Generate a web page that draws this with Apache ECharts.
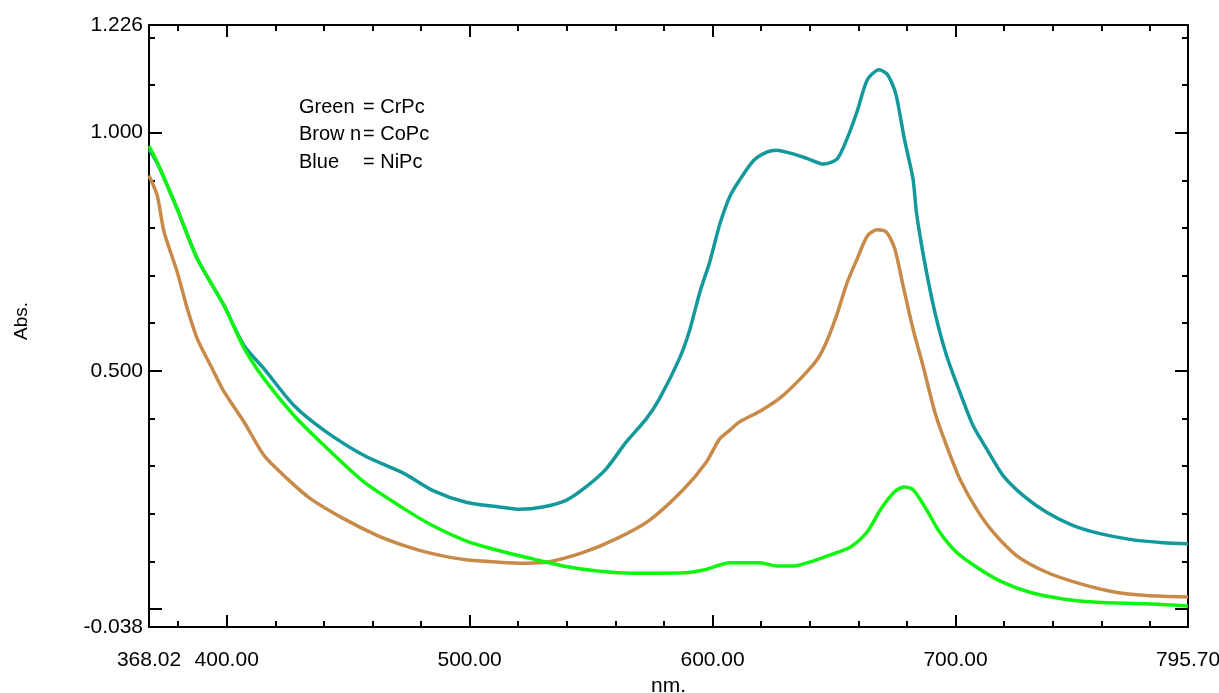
<!DOCTYPE html>
<html>
<head>
<meta charset="utf-8">
<script src="https://cdn.jsdelivr.net/npm/echarts@6/dist/echarts.min.js"></script>
<style>
html,body{margin:0;padding:0;background:#fff;}
#chart{width:1219px;height:693px;}
</style>
</head>
<body>
<div id="chart"></div>
<script>
// ---- data (wavelength nm, absorbance) ----
const crpcGreen = [
  [368.02,0.972],[371.4,0.938],[379.6,0.840],[387.9,0.735],[398.9,0.637],[407.1,0.548],
  [415.4,0.483],[427.7,0.406],[440.1,0.343],[456.6,0.266],[473.1,0.210],[484.7,0.175],
  [498.5,0.143],[512.2,0.122],[525.9,0.105],[539.7,0.089],[553.4,0.079],[567.1,0.075],
  [589.1,0.076],[597.4,0.083],[607.1,0.097],[619.5,0.097],[626.4,0.090],[633.3,0.090],
  [641.6,0.101],[649.9,0.116],[656.8,0.130],[663.7,0.162],[669.2,0.209],[674.7,0.245],
  [678.7,0.256],[681.7,0.253],[683.9,0.242],[688.7,0.203],[693.5,0.161],[700.4,0.119],
  [708.6,0.088],[718.2,0.059],[730.6,0.035],[744.3,0.021],[758.1,0.014],[778.7,0.011],
  [789.6,0.008],[795.70,0.006]
];
const copcBrown = [
  [368.02,0.910],[371.4,0.868],[374.2,0.792],[379.6,0.708],[383.8,0.630],[387.9,0.567],
  [393.4,0.511],[398.9,0.456],[407.1,0.393],[415.4,0.322],[425.0,0.273],[434.6,0.231],
  [448.3,0.189],[462.1,0.154],[473.1,0.133],[484.7,0.116],[498.5,0.103],[512.2,0.098],
  [523.2,0.096],[532.8,0.099],[546.5,0.118],[560.3,0.147],[574.0,0.186],[587.7,0.249],
  [597.4,0.308],[602.9,0.357],[607.0,0.375],[611.2,0.393],[619.5,0.415],[627.8,0.443],
  [636.1,0.483],[643.0,0.523],[647.1,0.563],[651.3,0.620],[655.4,0.685],[659.6,0.736],
  [663.7,0.783],[667.6,0.796],[671.6,0.791],[675.0,0.756],[678.4,0.679],[682.5,0.588],
  [686.6,0.511],[691.5,0.413],[696.3,0.343],[701.8,0.273],[708.6,0.210],[715.5,0.161],
  [725.1,0.112],[737.5,0.077],[751.2,0.053],[764.9,0.036],[778.7,0.028],[795.70,0.025]
];
const nipcBlue = [
  [368.02,0.965],[371.4,0.936],[379.6,0.840],[387.9,0.735],[398.9,0.637],[407.1,0.553],
  [415.4,0.504],[427.7,0.427],[440.1,0.375],[456.6,0.322],[473.1,0.284],[484.7,0.249],
  [498.5,0.224],[512.2,0.214],[520.5,0.209],[530.1,0.214],[539.7,0.228],[547.9,0.256],
  [556.2,0.294],[564.4,0.350],[572.7,0.399],[578.1,0.441],[586.4,0.526],[590.5,0.584],
  [594.7,0.664],[598.8,0.728],[603.0,0.808],[607.1,0.866],[611.2,0.901],[616.8,0.941],
  [622.3,0.959],[626.4,0.963],[632.0,0.957],[638.8,0.946],[645.8,0.934],[651.3,0.945],
  [655.4,0.988],[659.6,1.046],[663.7,1.111],[668.5,1.132],[672.0,1.122],[675.4,1.082],
  [678.9,0.988],[682.5,0.903],[683.9,0.833],[687.3,0.728],[691.5,0.623],[696.3,0.532],
  [701.8,0.455],[707.2,0.385],[712.8,0.336],[719.6,0.280],[727.9,0.238],[737.5,0.203],
  [748.5,0.175],[759.5,0.158],[771.8,0.146],[785.5,0.139],[795.70,0.137]
];
const xMin = 368.02, xMax = 795.70;
const yMin = -0.038, yMax = 1.226;
const xLabelValues = [368.02, 400, 500, 600, 700, 795.70];
const xMajorTicks = [400, 500, 600, 700];
const xMinorTicks = [380, 420, 440, 460, 480, 520, 540, 560, 580, 620, 640, 660, 680, 720, 740, 760, 780];
const yLabelValues = [-0.038, 0.5, 1.0, 1.226];
const yMajorTicks = [0, 0.5, 1.0];
const yMinorTicks = [0.1, 0.2, 0.3, 0.4, 0.6, 0.7, 0.8, 0.9, 1.1, 1.2];
const legendLines = [['Green ', '= CrPc'], ['Brow n', '= CoPc'], ['Blue', '= NiPc']];

const FONT = '"Liberation Sans", Arial, sans-serif';
const chart = echarts.init(document.getElementById('chart'));

function xAxisDef(pos, ticks, len, withLabels, show) {
  return {
    type: 'value', position: pos, min: xMin, max: xMax, gridIndex: 0,
    axisLine: { show: show, onZero: false, lineStyle: { color: '#000', width: 2 } },
    axisTick: { show: true, inside: true, length: len, customValues: ticks, lineStyle: { color: '#000', width: 2 } },
    axisLabel: withLabels ? {
      show: true, customValues: xLabelValues, margin: 23, fontSize: 21, color: '#000', fontFamily: FONT,
      formatter: v => v.toFixed(2)
    } : { show: false },
    splitLine: { show: false },
    name: withLabels ? 'nm.' : '', nameLocation: 'middle', nameGap: 49,
    nameTextStyle: { fontSize: 21, color: '#000', fontFamily: FONT }
  };
}
function yAxisDef(pos, ticks, len, withLabels, show) {
  return {
    type: 'value', position: pos, min: yMin, max: yMax, gridIndex: 0,
    axisLine: { show: show, onZero: false, lineStyle: { color: '#000', width: 2 } },
    axisTick: { show: true, inside: true, length: len, customValues: ticks, lineStyle: { color: '#000', width: 2 } },
    axisLabel: withLabels ? {
      show: true, customValues: yLabelValues, margin: 6, fontSize: 21, color: '#000', fontFamily: FONT,
      formatter: v => v.toFixed(3)
    } : { show: false },
    splitLine: { show: false }
  };
}

const graphics = [];
legendLines.forEach((l, i) => {
  const y = 108 + i * 27.5;
  graphics.push({ type: 'text', left: 299, top: y - 11, style: { text: l[0], font: '20px ' + FONT, fill: '#000' } });
  graphics.push({ type: 'text', left: 363, top: y - 11, style: { text: l[1], font: '20px ' + FONT, fill: '#000' } });
});
graphics.push({
  type: 'text', x: 22, y: 321, rotation: Math.PI / 2,
  style: { text: 'Abs.', font: '19px ' + FONT, fill: '#000', align: 'center', verticalAlign: 'middle' }
});

function lineSeries(name, data, color, z) {
  return {
    name: name, type: 'line', data: data, xAxisIndex: 0, yAxisIndex: 0,
    showSymbol: false, smooth: 0.25, z: z, animation: false,
    lineStyle: { color: color, width: 3.5 }
  };
}

chart.setOption({
  backgroundColor: '#fff',
  animation: false,
  grid: { left: 149, right: 31, top: 25, bottom: 66, containLabel: false, outerBoundsMode: 'none' },
  xAxis: [
    xAxisDef('bottom', xMajorTicks, 12, true, true),
    xAxisDef('bottom', xMinorTicks, 6, false, false),
    xAxisDef('top', xMajorTicks, 12, false, true),
    xAxisDef('top', xMinorTicks, 6, false, false)
  ],
  yAxis: [
    yAxisDef('left', yMajorTicks, 13, true, true),
    yAxisDef('left', yMinorTicks, 6, false, false),
    yAxisDef('right', yMajorTicks, 13, false, true),
    yAxisDef('right', yMinorTicks, 6, false, false)
  ],
  graphic: graphics,
  series: [
    lineSeries('NiPc', nipcBlue, '#13999b', 3),
    lineSeries('CoPc', copcBrown, '#c88a48', 4),
    lineSeries('CrPc', crpcGreen, '#0ef50e', 5)
  ]
});
</script>
</body>
</html>
